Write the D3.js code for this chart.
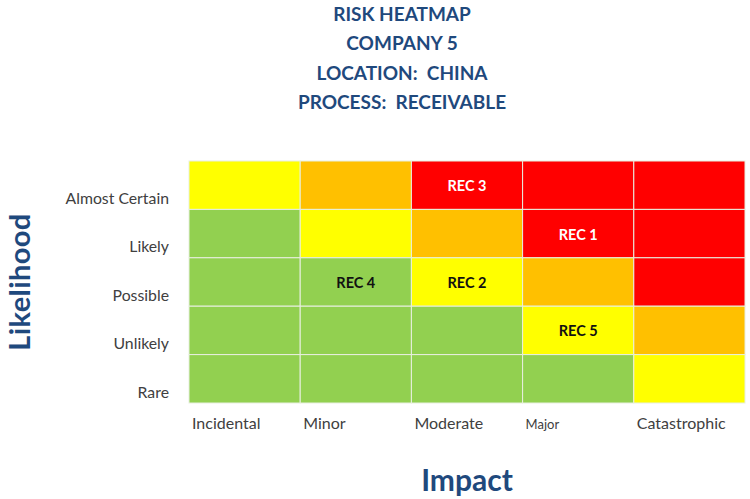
<!DOCTYPE html>
<html>
<head>
<meta charset="utf-8">
<script src="https://cdnjs.cloudflare.com/ajax/libs/d3/7.8.5/d3.min.js"></script>
<style>
    html, body { margin: 0; padding: 0; background: #fff; }
    svg { display: block; font-family: Lato, "Open Sans", sans-serif; }
</style>
</head>
<body>
<div id="heatmap"></div>
<script>
var impact = ["Incidental", "Minor", "Moderate", "Major", "Catastrophic"];
var likelihood = ["Almost Certain", "Likely", "Possible", "Unlikely", "Rare"];
var titleLines = ["RISK HEATMAP", "COMPANY 5", "LOCATION:  CHINA", "PROCESS:  RECEIVABLE"];

// risk level per cell, rows top to bottom: 0 green, 1 yellow, 2 orange, 3 red
var levels = [
    [1, 2, 3, 3, 3],
    [0, 1, 2, 3, 3],
    [0, 0, 1, 2, 3],
    [0, 0, 0, 1, 2],
    [0, 0, 0, 0, 1]
];

var recImpact = ["Major", "Moderate", "Moderate", "Minor", "Major"];
var recLikelihood = ["Likely", "Possible", "Almost Certain", "Possible", "Unlikely"];
var recNames = ["REC 1", "REC 2", "REC 3", "REC 4", "REC 5"];

var levelColors = ["#92d050", "#ffff00", "#ffc000", "#ff0000"];
var navy = "#1f497d";

var width = 750, height = 499;

var svg = d3.select("#heatmap")
    .append("svg")
    .attr("width", width)
    .attr("height", height);

var xScale = d3.scaleBand().domain(impact).range([189, 745]);
var yScale = d3.scaleBand().domain(likelihood).range([161, 403]);

// flatten the matrix into cells
var cells = [];
levels.forEach(function(row, r) {
    row.forEach(function(level, c) {
        cells.push({impact: impact[c], likelihood: likelihood[r], level: level});
    });
});

svg.selectAll(".cell")
    .data(cells)
    .enter()
    .append("rect")
    .attr("class", "cell")
    .attr("x", function(d) { return xScale(d.impact); })
    .attr("y", function(d) { return yScale(d.likelihood); })
    .attr("width", xScale.bandwidth())
    .attr("height", yScale.bandwidth())
    .attr("fill", function(d) { return levelColors[d.level]; })
    .attr("stroke", "#e8efe0")
    .attr("stroke-width", 1);

// rec labels
svg.selectAll(".rec")
    .data(recNames)
    .enter()
    .append("text")
    .attr("class", "rec")
    .attr("x", function(d, i) { return xScale(recImpact[i]) + xScale.bandwidth() / 2; })
    .attr("y", function(d, i) { return yScale(recLikelihood[i]) + yScale.bandwidth() / 2 + 1; })
    .attr("dy", "0.35em")
    .attr("text-anchor", "middle")
    .attr("font-size", 14.5)
    .attr("font-weight", 700)
    .attr("fill", function(d, i) {
        var r = likelihood.indexOf(recLikelihood[i]);
        var c = impact.indexOf(recImpact[i]);
        return levels[r][c] === 3 ? "#fff" : "#111";
    })
    .text(function(d) { return d; });

// y labels, sit low in their row like the original
svg.selectAll(".y-label")
    .data(likelihood)
    .enter()
    .append("text")
    .attr("class", "y-label")
    .attr("x", 169)
    .attr("y", function(d) { return yScale(d) + 43; })
    .attr("text-anchor", "end")
    .attr("font-size", 15.8)
    .attr("fill", "#404040")
    .text(function(d) { return d; });

svg.selectAll(".x-label")
    .data(impact)
    .enter()
    .append("text")
    .attr("class", "x-label")
    .attr("x", function(d) { return xScale(d) + 3; })
    .attr("y", 429)
    .attr("font-size", function(d) { return d === "Major" ? 13 : 16; })
    .attr("fill", "#404040")
    .text(function(d) { return d; });

svg.selectAll(".title")
    .data(titleLines)
    .enter()
    .append("text")
    .attr("class", "title")
    .attr("x", 402)
    .attr("y", function(d, i) { return 21 + i * 29.3; })
    .attr("text-anchor", "middle")
    .attr("font-size", 19)
    .attr("font-weight", 700)
    .attr("fill", navy)
    .attr("xml:space", "preserve")
    .style("white-space", "pre")
    .text(function(d) { return d; });

svg.append("text")
    .attr("x", 467)
    .attr("y", 491)
    .attr("text-anchor", "middle")
    .attr("font-size", 30)
    .attr("font-weight", 700)
    .attr("fill", navy)
    .text("Impact");

svg.append("text")
    .attr("transform", "translate(30,282) rotate(-90)")
    .attr("text-anchor", "middle")
    .attr("font-size", 29)
    .attr("font-weight", 700)
    .attr("letter-spacing", 0.4)
    .attr("fill", navy)
    .text("Likelihood");
</script>
</body>
</html>
